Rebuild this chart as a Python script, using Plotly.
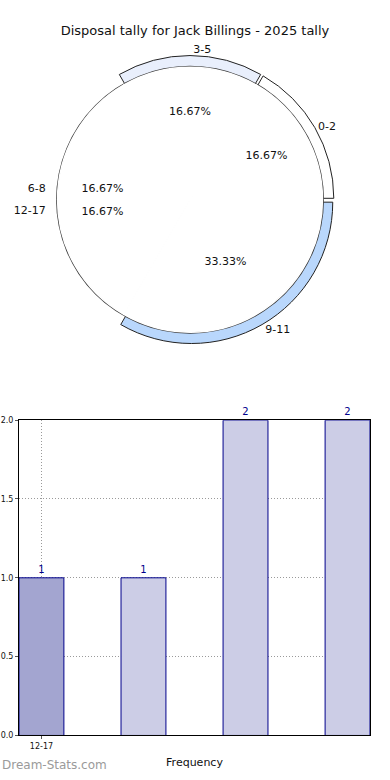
import plotly.graph_objects as go

# ---------------- data ----------------
chart_title = "Disposal tally for Jack Billings - 2025 tally"

pie_labels = ["9-11", "12-17", "6-8", "3-5", "0-2"]
pie_values = [2, 1, 1, 1, 1]
pie_colors = ["#b9d7fc", "#ffffff", "#ffffff", "#e9effc", "#ffffff"]
pie_edges = ["#222222", "#ffffff", "#ffffff", "#222222", "#222222"]
# the two left-hand slices have their texts gathered around 9 o'clock
stacked_labels = ["12-17", "6-8"]

bar_values = [1, 1, 2, 2]
bar_tick_labels = ["12-17"]
bar_colors = ["#a3a5d0", "#cccde6", "#cccde6", "#cccde6"]
bar_x_title = "Frequency"
watermark = "Dream-Stats.com"

# ---------------- layout helpers ----------------
W, H = 390, 780
cx, cy = 190, 198
FONT = "DejaVu Sans"
TXT = "#111111"
CLEAR = "rgba(0,0,0,0)"


def dom(r):
    return dict(x=[(cx - r) / W, (cx + r) / W],
                y=[1 - (cy + r) / H, 1 - (cy - r) / H])


PULL = 0.02
R_OUT, R_EDGE, R_FACE = 143, 135.5, 134
# small angular spread (deg) so the gathered texts do not sit on each other
SPREAD_LABEL, SPREAD_PCT = 4.5, 7.5
total = sum(pie_values)

label_tpl = ["" if l in stacked_labels else "%{label}" for l in pie_labels]
pct_tpl = ["" if l in stacked_labels else "%{percent:.2%}" for l in pie_labels]

fig = go.Figure()

# outer ring (coloured slices, exploded slightly)
fig.add_trace(go.Pie(
    labels=pie_labels, values=pie_values, sort=False,
    direction="clockwise", rotation=90, pull=PULL,
    marker=dict(colors=pie_colors, line=dict(color=pie_edges, width=1)),
    texttemplate=label_tpl, textposition="outside",
    textfont=dict(family=FONT, size=11, color=TXT),
    domain=dom(R_OUT * (1 + PULL)), showlegend=False, hoverinfo="label+value",
))

# dark edge disc
fig.add_trace(go.Pie(
    labels=["edge"], values=[total], sort=False,
    marker=dict(colors=["#3a3a3a"], line=dict(width=0)),
    textinfo="none", domain=dom(R_EDGE), showlegend=False, hoverinfo="skip",
))

# inner white face with percentages
fig.add_trace(go.Pie(
    labels=pie_labels, values=pie_values, sort=False,
    direction="clockwise", rotation=90,
    marker=dict(colors=["#ffffff"] * len(pie_values),
                line=dict(color="#ffffff", width=1.5)),
    texttemplate=pct_tpl, textposition="inside",
    insidetextorientation="horizontal",
    textfont=dict(family=FONT, size=11, color=TXT),
    domain=dom(R_FACE), showlegend=False, hoverinfo="label+percent",
))

# texts of the left-hand slices, gathered around 9 o'clock
for k, name in enumerate(stacked_labels):
    v = pie_values[pie_labels.index(name)]
    sign = -1 if k == 0 else 1          # first one just below, second just above
    for spread, tpl, pos, rad in ((SPREAD_LABEL, "%{label}", "outside", R_OUT),
                                  (SPREAD_PCT, "%{percent:.2%}", "inside", R_FACE)):
        mid = 270 + sign * spread
        fig.add_trace(go.Pie(
            labels=[name, " "], values=[v, total - v], sort=False,
            direction="clockwise", rotation=mid - 180 * v / total,
            marker=dict(colors=[CLEAR, CLEAR], line=dict(width=0)),
            texttemplate=[tpl, ""], textposition=pos,
            insidetextorientation="horizontal",
            textfont=dict(family=FONT, size=11, color=TXT),
            domain=dom(rad), showlegend=False, hoverinfo="skip",
        ))

# bar chart
fig.add_trace(go.Bar(
    x=list(range(len(bar_values))), y=bar_values, width=0.44,
    marker=dict(color=bar_colors, line=dict(color="#00008b", width=1)),
    text=[str(v) for v in bar_values], textposition="outside",
    textfont=dict(family=FONT, size=10, color="#00008b"),
    cliponaxis=False, showlegend=False, xaxis="x", yaxis="y",
))

grid = dict(showgrid=True, griddash="1px,2px", gridcolor="#9a9a9a", gridwidth=1,
            showline=True, mirror=True, linecolor="black", linewidth=1,
            zeroline=False, ticks="outside", ticklen=3, tickcolor="#555",
            tickfont=dict(family=FONT, size=8, color=TXT))

fig.update_layout(
    width=W, height=H,
    margin=dict(l=0, r=0, t=0, b=0),
    paper_bgcolor="white", plot_bgcolor="white",
    font=dict(family=FONT, color=TXT),
    title=dict(text=chart_title, x=0.5, xanchor="center",
               y=1 - 30 / H, yanchor="middle",
               font=dict(family=FONT, size=13, color=TXT)),
    xaxis=dict(domain=[19 / W, 370 / W], anchor="y",
               range=[-0.22, len(bar_values) - 1 + 0.22],
               tickvals=[0], ticktext=bar_tick_labels,
               title=dict(text=bar_x_title, standoff=8,
                          font=dict(family=FONT, size=11, color=TXT)),
               **grid),
    yaxis=dict(domain=[1 - 740 / H, 1 - 421 / H], anchor="x",
               range=[0, 2], dtick=0.5, tickformat=".1f", **grid),
    annotations=[dict(text=watermark, xref="paper", yref="paper",
                      x=0, y=1 - 770 / H, xanchor="left", yanchor="middle",
                      showarrow=False,
                      font=dict(family=FONT, size=12, color="#9a9a9a"))],
)

fig.write_html("out.html")
